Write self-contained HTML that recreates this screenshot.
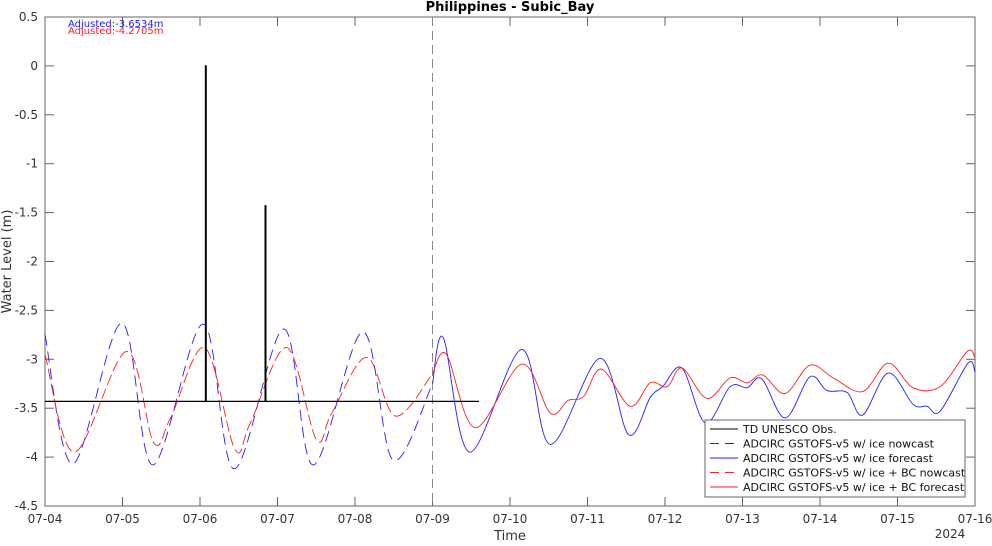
<!DOCTYPE html>
<html><head><meta charset="utf-8"><style>
body{margin:0;background:#fff}
svg{font-family:"DejaVu Sans","Liberation Sans",sans-serif}
</style></head><body>
<svg id="c" width="992" height="541"></svg>
<script>
const xTickLabels=["07-04","07-05","07-06","07-07","07-08","07-09","07-10","07-11","07-12","07-13","07-14","07-15","07-16"];
const yTicks=[0.5,0,-0.5,-1,-1.5,-2,-2.5,-3,-3.5,-4,-4.5];
// days since 07-04 00:00, values in m
const obsT=[0,2.07,2.07,2.08,2.08,2.84,2.84,2.85,2.85,5.6];
const obsV=[-3.43,-3.43,0,0,-3.43,-3.43,-1.43,-1.43,-3.43,-3.43];
const blueNowT=[0,0.36,0.99,1.39,2.04,2.44,3.08,3.46,4.10,4.49,5.0];
const blueNowV=[-2.75,-4.07,-2.63,-4.08,-2.64,-4.12,-2.69,-4.08,-2.72,-4.03,-3.25];
const blueFcT=[5.0,5.14,5.48,6.15,6.52,7.16,7.53,7.81,7.97,8.22,8.52,8.84,9.06,9.25,9.55,9.87,10.09,10.35,10.55,10.88,11.2,11.38,11.55,11.91,12.0];
const blueFcV=[-3.25,-2.78,-3.95,-2.9,-3.87,-2.99,-3.77,-3.39,-3.28,-3.09,-3.65,-3.28,-3.29,-3.2,-3.6,-3.18,-3.32,-3.34,-3.57,-3.14,-3.46,-3.48,-3.53,-3.04,-3.13];
const redNowT=[0,0.38,1.05,1.4,1.62,2.06,2.45,2.65,3.12,3.5,3.7,4.15,4.52,5.0];
const redNowV=[-2.95,-3.95,-2.92,-3.85,-3.6,-2.88,-3.92,-3.65,-2.88,-3.82,-3.55,-2.98,-3.58,-3.15];
const redFcT=[5.0,5.18,5.55,6.15,6.52,6.75,6.95,7.18,7.55,7.81,8.03,8.22,8.54,8.84,9.06,9.26,9.55,9.87,10.17,10.55,10.88,11.2,11.55,11.9,12.0];
const redFcV=[-3.15,-2.95,-3.7,-3.05,-3.55,-3.42,-3.38,-3.1,-3.48,-3.24,-3.28,-3.09,-3.4,-3.19,-3.24,-3.16,-3.35,-3.06,-3.19,-3.33,-3.04,-3.29,-3.28,-2.92,-2.98];

const NS="http://www.w3.org/2000/svg",svg=document.getElementById('c');
const L=45,R=975,T=17,B=506;
const xs=d=>L+(R-L)*d/12, ys=v=>T+(B-T)*(0.5-v)/5;
function mk(tag,at,parent){const e=document.createElementNS(NS,tag);for(const k in at)e.setAttribute(k,at[k]);(parent||svg).appendChild(e);return e;}
function smooth(t,v){let p=t.map((d,i)=>[xs(d),ys(v[i])]);let s="M"+p[0][0]+","+p[0][1];
 for(let i=0;i<p.length-1;i++){const p0=p[i-1]||p[i],p1=p[i],p2=p[i+1],p3=p[i+2]||p2;
  const c1=[p1[0]+(p2[0]-p0[0])/6,p1[1]+(p2[1]-p0[1])/6],c2=[p2[0]-(p3[0]-p1[0])/6,p2[1]-(p3[1]-p1[1])/6];
  s+=`C${c1[0]},${c1[1]} ${c2[0]},${c2[1]} ${p2[0]},${p2[1]}`;}return s;}
function poly(t,v){return t.map((d,i)=>(i?"L":"M")+xs(d)+","+ys(v[i])).join("");}

let e=mk('rect',{x:L,y:T,width:R-L,height:B-T,fill:'#fff',stroke:'#666','stroke-width':1});

xTickLabels.forEach((lb,i)=>{const x=xs(i);
 mk('line',{x1:x,x2:x,y1:B,y2:B-9,stroke:'#666'});mk('line',{x1:x,x2:x,y1:T,y2:T+9,stroke:'#666'});
 const t=mk('text',{x:x,y:B+17,'text-anchor':'middle','font-size':12,fill:'#333'});t.textContent=lb;
 });
yTicks.forEach(v=>{const y=ys(v);
 mk('line',{x1:L,x2:L+9,y1:y,y2:y,stroke:'#666'});mk('line',{x1:R,x2:R-9,y1:y,y2:y,stroke:'#666'});
 const t=mk('text',{x:L-7,y:y+4,'text-anchor':'end','font-size':12,fill:'#333'});t.textContent=v;
 });
e=mk('line',{x1:xs(5),x2:xs(5),y1:T,y2:B,stroke:'#888','stroke-dasharray':'9,5'});


e=mk('path',{d:smooth(blueNowT,blueNowV),fill:'none',stroke:'#2020ff','stroke-width':0.9,'stroke-dasharray':'11,6'});

e=mk('path',{d:smooth(blueFcT,blueFcV),fill:'none',stroke:'#2020ff','stroke-width':0.9});

e=mk('path',{d:smooth(redNowT,redNowV),fill:'none',stroke:'#ff2020','stroke-width':0.9,'stroke-dasharray':'11,4'});

e=mk('path',{d:smooth(redFcT,redFcV),fill:'none',stroke:'#ff2020','stroke-width':0.9});

e=mk('path',{d:poly(obsT,obsV),fill:'none',stroke:'#000','stroke-width':1.2});


e=mk('text',{x:L+23,y:T+10,'font-size':10,fill:'#2020ff'});e.textContent='Adjusted:-3.6534m';

e=mk('text',{x:L+23,y:T+17,'font-size':10,fill:'#ff2020'});e.textContent='Adjusted:-4.2705m';


e=mk('text',{x:(L+R)/2,y:11,'text-anchor':'middle','font-size':13,'font-weight':'bold',fill:'#000'});e.textContent='Philippines - Subic_Bay';

e=mk('text',{x:(L+R)/2,y:540,'text-anchor':'middle','font-size':13,fill:'#333'});e.textContent='Time';

e=mk('text',{x:R-25,y:B+32,'text-anchor':'middle','font-size':12,fill:'#333'});e.textContent='2024';

e=mk('text',{x:0,y:0,'text-anchor':'middle','font-size':13,fill:'#333',transform:`translate(11,${(T+B)/2}) rotate(-90)`});e.textContent='Water Level (m)';


const lg=mk('g',{});
mk('rect',{x:705,y:420,width:260,height:77,fill:'#fff',stroke:'#666'},lg);
const legLabels=["TD UNESCO Obs.","ADCIRC GSTOFS-v5 w/ ice nowcast","ADCIRC GSTOFS-v5 w/ ice forecast","ADCIRC GSTOFS-v5 w/ ice + BC nowcast","ADCIRC GSTOFS-v5 w/ ice + BC forecast"];
const legCol=['#000','#2020ff','#2020ff','#ff2020','#ff2020'],legDash=['','9,6','','9,6',''];
legLabels.forEach((lb,i)=>{const y=429+i*14.5;
 const g=mk('g',{},lg);
 mk('line',{x1:710,x2:738,y1:y,y2:y,stroke:legCol[i],'stroke-dasharray':legDash[i]},g);
 const t=mk('text',{x:743,y:y+4,'font-size':11,fill:'#111'},g);t.textContent=lb;});
</script>
</body></html>
